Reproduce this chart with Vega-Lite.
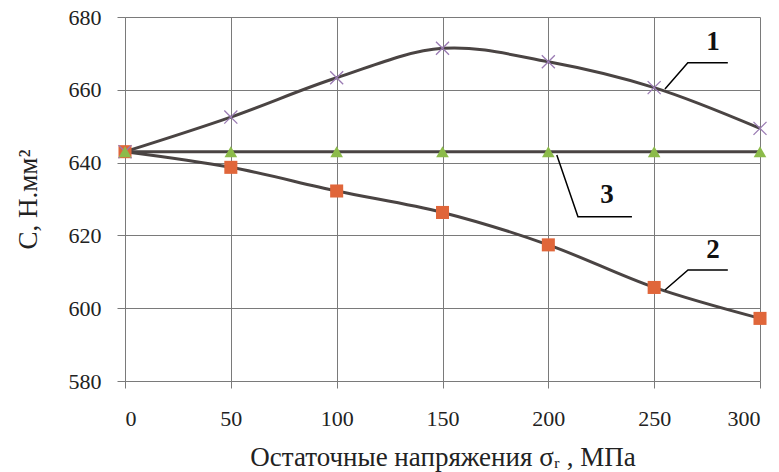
{
  "$schema": "https://vega.github.io/schema/vega-lite/v6.json",
  "width": 635,
  "height": 364,
  "autosize": {"type": "none"},
  "padding": {"left": 125, "top": 17, "right": 19, "bottom": 91},
  "background": "white",
  "config": {"view": {"stroke": null}, "font": "Times New Roman, Liberation Serif, DejaVu Serif, serif"},
  "datasets": {
    "pts": [
      {"series": "1", "x": 0, "y": 643}, {"series": "1", "x": 50, "y": 652.5}, {"series": "1", "x": 100, "y": 663.3}, {"series": "1", "x": 150, "y": 671.4}, {"series": "1", "x": 200, "y": 667.7}, {"series": "1", "x": 250, "y": 660.6}, {"series": "1", "x": 300, "y": 649.4},
      {"series": "2", "x": 0, "y": 643}, {"series": "2", "x": 50, "y": 638.7}, {"series": "2", "x": 100, "y": 632.2}, {"series": "2", "x": 150, "y": 626.3}, {"series": "2", "x": 200, "y": 617.4}, {"series": "2", "x": 250, "y": 605.7}, {"series": "2", "x": 300, "y": 597.2},
      {"series": "3", "x": 0, "y": 643}, {"series": "3", "x": 50, "y": 643}, {"series": "3", "x": 100, "y": 643}, {"series": "3", "x": 150, "y": 643}, {"series": "3", "x": 200, "y": 643}, {"series": "3", "x": 250, "y": 643}, {"series": "3", "x": 300, "y": 643}
    ],
    "leaders": [
      {"lead": "1", "o": 0, "x": 255.1, "y": 660.2}, {"lead": "1", "o": 1, "x": 265.9, "y": 667.4}, {"lead": "1", "o": 2, "x": 284.8, "y": 667.4},
      {"lead": "2", "o": 0, "x": 255.1, "y": 605.0}, {"lead": "2", "o": 1, "x": 266.0, "y": 610.5}, {"lead": "2", "o": 2, "x": 284.8, "y": 610.5},
      {"lead": "3", "o": 0, "x": 204.0, "y": 642.1}, {"lead": "3", "o": 1, "x": 214.0, "y": 625.1}, {"lead": "3", "o": 2, "x": 239.5, "y": 625.1}
    ],
    "labels": [
      {"t": "1", "x": 277.8, "y": 673.1},
      {"t": "2", "x": 277.8, "y": 616.0},
      {"t": "3", "x": 227.7, "y": 631.1}
    ]
  },
  "layer": [
    {
      "data": {"name": "pts"},
      "mark": {"type": "line", "interpolate": "catmull-rom", "color": "#4a4443", "strokeWidth": 3},
      "encoding": {
        "x": {
          "field": "x", "type": "quantitative",
          "scale": {"domain": [0, 300], "nice": false},
          "axis": {
            "values": [0, 50, 100, 150, 200, 250, 300],
            "grid": true, "gridColor": "#7a7a7a", "gridOpacity": 1, "gridWidth": 1,
            "domainColor": "#7a7a7a", "tickColor": "#7a7a7a", "tickSize": 7,
            "labelFontSize": 22, "labelColor": "#222", "labelPadding": 20,
            "title": "Остаточные напряжения σᵣ , МПа", "titleFontSize": 27, "titleFontWeight": "normal",
            "titleColor": "#222", "titlePadding": 15
          }
        },
        "y": {
          "field": "y", "type": "quantitative",
          "scale": {"domain": [580, 680], "nice": false, "zero": false},
          "axis": {
            "values": [580, 600, 620, 640, 660, 680],
            "grid": true, "gridColor": "#7a7a7a", "gridOpacity": 1, "gridWidth": 1,
            "domainColor": "#7a7a7a", "tickColor": "#7a7a7a", "tickSize": 8,
            "labelFontSize": 22, "labelColor": "#222", "labelPadding": 16,
            "title": "С, Н.мм²", "titleFontSize": 27, "titleFontWeight": "normal",
            "titleColor": "#222", "titlePadding": 26
          }
        },
        "detail": {"field": "series"}
      }
    },
    {
      "data": {"name": "pts"},
      "transform": [{"filter": "datum.series === '2'"}],
      "mark": {"type": "point", "shape": "square", "filled": true, "size": 170, "color": "#e0663a", "opacity": 1},
      "encoding": {"x": {"field": "x", "type": "quantitative"}, "y": {"field": "y", "type": "quantitative"}}
    },
    {
      "data": {"name": "pts"},
      "transform": [{"filter": "datum.series === '1'"}],
      "mark": {"type": "point", "shape": "M-1,-1L1,1M1,-1L-1,1", "filled": false, "size": 170, "stroke": "#9a7bb3", "strokeWidth": 1.3, "opacity": 1},
      "encoding": {"x": {"field": "x", "type": "quantitative"}, "y": {"field": "y", "type": "quantitative"}}
    },
    {
      "data": {"name": "pts"},
      "transform": [{"filter": "datum.series === '3'"}],
      "mark": {"type": "point", "shape": "triangle-up", "filled": true, "size": 160, "color": "#8cbb4a", "opacity": 1},
      "encoding": {"x": {"field": "x", "type": "quantitative"}, "y": {"field": "y", "type": "quantitative"}}
    },
    {
      "data": {"name": "leaders"},
      "mark": {"type": "line", "interpolate": "linear", "color": "#000", "strokeWidth": 1.5},
      "encoding": {
        "x": {"field": "x", "type": "quantitative"},
        "y": {"field": "y", "type": "quantitative"},
        "detail": {"field": "lead"},
        "order": {"field": "o"}
      }
    },
    {
      "data": {"name": "labels"},
      "mark": {"type": "text", "fontSize": 27, "fontWeight": "bold", "color": "#111", "baseline": "middle", "align": "center"},
      "encoding": {
        "x": {"field": "x", "type": "quantitative"},
        "y": {"field": "y", "type": "quantitative"},
        "text": {"field": "t"}
      }
    }
  ]
}
